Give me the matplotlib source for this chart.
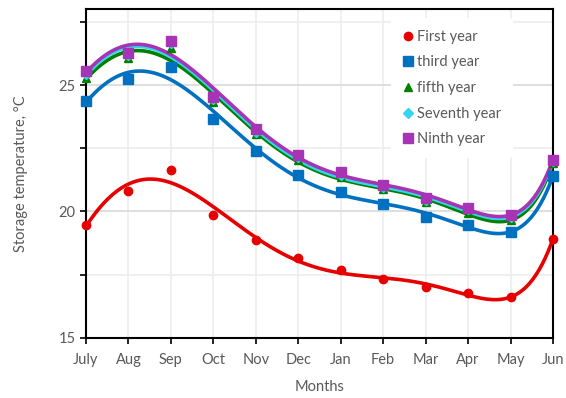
import numpy as np
import matplotlib.pyplot as plt
from matplotlib.ticker import MultipleLocator

plt.rcParams['font.family'] = ['Lato', 'DejaVu Sans']

months = ['July', 'Aug', 'Sep', 'Oct', 'Nov', 'Dec',
          'Jan', 'Feb', 'Mar', 'Apr', 'May', 'Jun']

first_year = [19.47, 20.81, 21.64, 19.86, 18.87, 18.16,
              17.67, 17.33, 17.02, 16.78, 16.60, 18.91]
third_year = [24.37, 25.23, 25.70, 23.66, 22.39, 21.44,
              20.76, 20.30, 19.79, 19.48, 19.18, 21.40]
fifth_year = [25.29, 26.05, 26.47, 24.34, 23.06, 22.05,
              21.38, 20.88, 20.39, 19.95, 19.66, 21.90]
seventh_year = [25.45, 26.20, 26.65, 24.45, 23.15, 22.15,
                21.45, 20.95, 20.45, 20.08, 19.78, 21.98]
ninth_year = [25.55, 26.28, 26.74, 24.54, 23.25, 22.23,
              21.55, 21.05, 20.52, 20.15, 19.86, 22.04]

series = [
    ('First year', first_year, '#E60000', 'o', 6),
    ('third year', third_year, '#0070C0', 's', 7),
    ('fifth year', fifth_year, '#008000', '^', 6),
    ('Seventh year', seventh_year, '#33D6EE', 'D', 5),
    ('Ninth year', ninth_year, '#A733B5', 's', 7),
]

fig = plt.figure(figsize=(5.66, 3.98), dpi=100)
ax = fig.add_axes([0.152, 0.151, 0.825, 0.826])

x = np.arange(len(months))
xs = np.linspace(0, len(months) - 1, 300)

for label, vals, color, marker, ms in series:
    # 6th order polynomial trend line through each year's readings
    coef = np.polyfit(x, vals, 6)
    ax.plot(xs, np.polyval(coef, xs), color=color, lw=2.6, zorder=3)
    ax.plot(x, vals, linestyle='none', marker=marker, ms=ms, color=color,
            label=label, zorder=4, clip_on=False)

ax.set_xlim(0, len(months) - 1)
ax.set_ylim(15, 28)
ax.set_xticks(x)
ax.set_xticklabels(months)
ax.yaxis.set_major_locator(MultipleLocator(5))
ax.yaxis.set_minor_locator(MultipleLocator(2.5))

ax.grid(True, which='major', axis='y', color='#D9D9D9', lw=1.2)
ax.grid(True, which='minor', axis='y', color='#EDEDED', lw=1.2)
ax.grid(True, which='major', axis='x', color='#EDEDED', lw=1.2)
ax.set_axisbelow(True)

for s in ax.spines.values():
    s.set_color('black')
    s.set_linewidth(1.5)

ax.tick_params(axis='both', which='both', direction='out', color='black',
               width=1.2, labelcolor='#595959', labelsize=10.5)
ax.tick_params(axis='both', which='major', length=4)
ax.tick_params(axis='y', which='minor', length=4)
ax.tick_params(axis='x', pad=7)

ax.set_xlabel('Months', color='#595959', fontsize=10.5, labelpad=9)
ax.set_ylabel('Storage temperature, °C', color='#595959', fontsize=10.5,
              labelpad=22)

leg = ax.legend(loc='upper right', bbox_to_anchor=(0.93, 0.995), fontsize=10.5,
                frameon=True, facecolor='white', edgecolor='none',
                framealpha=1, handlelength=0.8, handletextpad=0.2,
                labelspacing=0.8, borderpad=0.8, labelcolor='#595959')

fig.savefig('out.png', dpi=100)
